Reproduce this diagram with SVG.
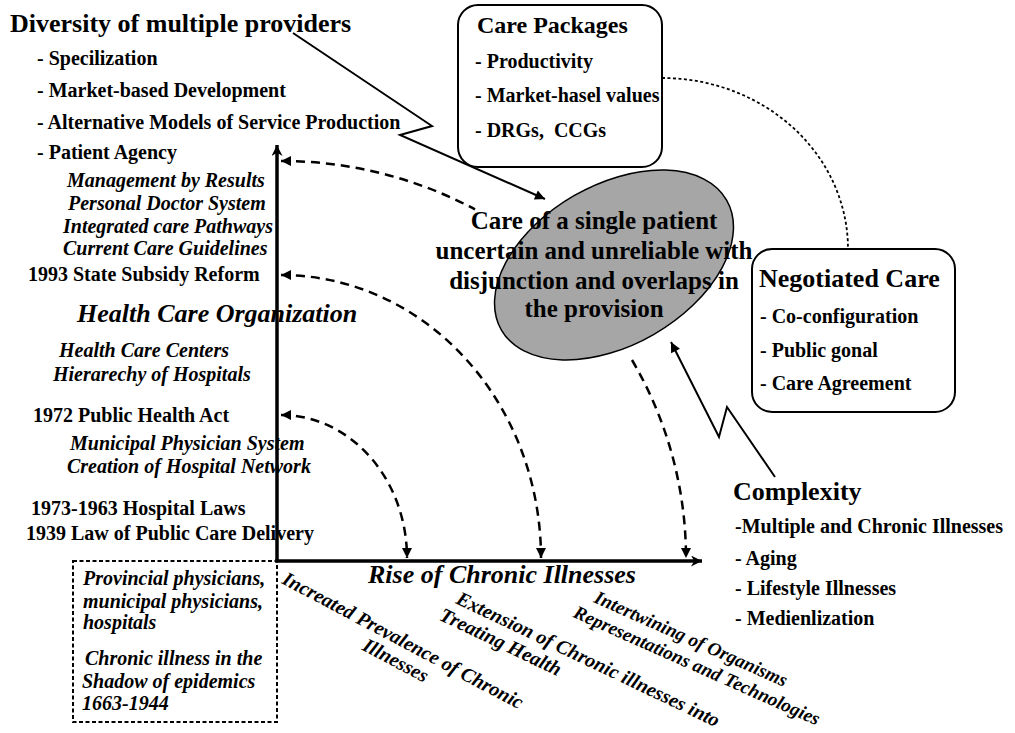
<svg xmlns="http://www.w3.org/2000/svg" width="1015" height="733" viewBox="0 0 1015 733">
<defs>
<marker id="ah" viewBox="0 0 10 10" refX="10" refY="5" markerWidth="14" markerHeight="10" markerUnits="userSpaceOnUse" orient="auto-start-reverse"><path d="M0,0 L10,5 L0,10 Z" fill="#000"/></marker>
<marker id="ax" viewBox="0 0 10 10" refX="10" refY="5" markerWidth="13" markerHeight="11" markerUnits="userSpaceOnUse" orient="auto"><path d="M0,0 L10,5 L0,10 L3,5 Z" fill="#000"/></marker>
<style>
text{font-family:"Liberation Serif","Times New Roman",serif;font-weight:bold;fill:#000}
.t26{font-size:26px}
.t25{font-size:25px}
.t24{font-size:24px}
.t20{font-size:20px}
.t19{font-size:19px}
.i{font-style:italic}
.dash{fill:none;stroke:#000;stroke-width:2.5;stroke-dasharray:9 6}
.solid{fill:none;stroke:#000;stroke-width:2}
.box{fill:#fff;stroke:#000;stroke-width:2}
</style>
</defs>
<rect width="1015" height="733" fill="#fff"/>

<g id="connectors">
<path class="dash" d="M281,161 A405 397 0 0 1 475,209.4" marker-start="url(#ah)"/>
<path class="dash" d="M632,360 A405 397 0 0 1 686,558" marker-end="url(#ah)"/>
<path class="dash" d="M281,275 A260 283 0 0 1 541,558" marker-start="url(#ah)" marker-end="url(#ah)"/>
<path class="dash" d="M281,415 A126 143 0 0 1 407,558" marker-start="url(#ah)" marker-end="url(#ah)"/>
<path class="solid" d="M293,33 L432,126 L400,135 L545,199" marker-end="url(#ah)"/>
<path class="solid" d="M775,477 L727,407 L719,437 L671,342" marker-end="url(#ah)"/>
<path d="M662,78 A186 171 0 0 1 848,249" fill="none" stroke="#000" stroke-width="1.8" stroke-dasharray="3 2.5"/>
</g>

<g id="axes">
<line x1="277" y1="562" x2="277" y2="145" stroke="#000" stroke-width="3.5" marker-end="url(#ax)"/>
<line x1="275" y1="561" x2="702" y2="561" stroke="#000" stroke-width="3.5" marker-end="url(#ax)"/>
</g>

<g id="providers">
<text class="t26" x="10" y="32">Diversity of multiple providers</text>
<text class="t20" x="37" y="65">- Specilization</text>
<text class="t20" x="37" y="97">- Market-based Development</text>
<text class="t20" x="37" y="129">- Alternative Models of Service Production</text>
<text class="t20" x="37" y="159">- Patient Agency</text>
</g>

<g id="vertical-axis-labels">
<text class="t20 i" x="67" y="187">Management by Results</text>
<text class="t20 i" x="68" y="210">Personal Doctor System</text>
<text class="t20 i" x="63" y="233">Integrated care Pathways</text>
<text class="t20 i" x="63" y="255">Current Care Guidelines</text>
<text class="t20" x="28" y="281">1993 State Subsidy Reform</text>
<text class="t26 i" x="77" y="322">Health Care Organization</text>
<text class="t20 i" x="59" y="357">Health Care Centers</text>
<text class="t20 i" x="53" y="381">Hierarechy of Hospitals</text>
<text class="t20" x="33" y="422">1972 Public Health Act</text>
<text class="t20 i" x="70" y="450">Municipal Physician System</text>
<text class="t20 i" x="67" y="473">Creation of Hospital Network</text>
<text class="t20" x="31" y="515">1973-1963 Hospital Laws</text>
<text class="t20" x="26" y="540">1939 Law of Public Care Delivery</text>
</g>

<g id="early-period">
<rect x="73" y="561" width="204" height="161" fill="none" stroke="#000" stroke-width="2" stroke-dasharray="4 2.5"/>
<text class="t20 i" x="83" y="585">Provincial physicians,</text>
<text class="t20 i" x="83" y="608">municipal physicians,</text>
<text class="t20 i" x="83" y="629">hospitals</text>
<text class="t20 i" x="85" y="665">Chronic illness in the</text>
<text class="t20 i" x="82" y="688">Shadow of epidemics</text>
<text class="t20 i" x="82" y="710">1663-1944</text>
</g>

<g id="care-packages">
<rect class="box" x="458" y="5" width="204" height="162" rx="20"/>
<text class="t24" x="477" y="33">Care Packages</text>
<text class="t20" x="475" y="68">- Productivity</text>
<text class="t20" x="475" y="102">- Market-hasel values</text>
<text class="t20" x="475" y="137">- DRGs,&#160; CCGs</text>
</g>

<g id="single-patient">
<ellipse cx="614" cy="265" rx="130" ry="80" transform="rotate(-30 614 265)" fill="#a6a6a6" stroke="#000" stroke-width="1.5"/>
<text class="t25" text-anchor="middle" x="594" y="229">Care of a single patient</text>
<text class="t25" text-anchor="middle" x="594" y="259">uncertain and unreliable with</text>
<text class="t25" text-anchor="middle" x="594" y="289">disjunction and overlaps in</text>
<text class="t25" text-anchor="middle" x="594" y="317">the provision</text>
</g>

<g id="negotiated-care">
<rect class="box" x="752" y="249" width="203" height="163" rx="20"/>
<text class="t26" x="759" y="287">Negotiated Care</text>
<text class="t20" x="760" y="323">- Co-configuration</text>
<text class="t20" x="760" y="357">- Public gonal</text>
<text class="t20" x="760" y="390">- Care Agreement</text>
</g>

<g id="complexity">
<text class="t26" x="733" y="500">Complexity</text>
<text class="t20" x="735" y="533">-Multiple and Chronic Illnesses</text>
<text class="t20" x="735" y="565">- Aging</text>
<text class="t20" x="735" y="595">- Lifestyle Illnesses</text>
<text class="t20" x="735" y="625">- Medienlization</text>
</g>

<g id="horizontal-axis-labels">
<text class="t26 i" x="368" y="583">Rise of Chronic Illnesses</text>
<g transform="translate(281,583) rotate(28)">
<text class="t20 i" x="0" y="0">Increated Prevalence of Chronic</text>
<text class="t20 i" x="102" y="21">Illnesses</text>
</g>
<g transform="translate(455,603) rotate(25.5)">
<text class="t20 i" x="0" y="0">Extension of Chronic illnesses into</text>
<text class="t20 i" x="-8" y="22">Treating Health</text>
</g>
<g transform="translate(593,602) rotate(24)">
<text class="t19 i" x="0" y="0">Intertwining of Organisms</text>
<text class="t19 i" x="-13" y="22">Representations and Technologies</text>
</g>
</g>
</svg>
